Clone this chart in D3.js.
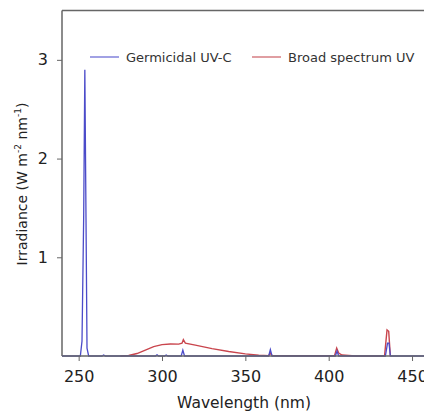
<!DOCTYPE html>
<html>
<head>
<meta charset="utf-8">
<script src="https://cdn.jsdelivr.net/npm/d3@7"></script>
<style>
  body { margin: 0; background: #fff; }
  svg { font-family: "DejaVu Sans", Verdana, sans-serif; }
</style>
</head>
<body>
<div id="chart"></div>
<script>
// spectra (wavelength nm, irradiance W m-2 nm-1)
var germicidal = [
  [240,0],[251,0],[252,0.15],[253,1.4],[253.7,2.9],[254.4,1.4],[255,0.08],[256,0],
  [264,0],[265,0.01],[266,0],[296,0],[297,0.012],[298,0],[301.5,0],[302.5,0.01],[303.5,0],
  [311.5,0],[312.5,0.06],[313.5,0],[364,0],[365,0.065],[366,0],
  [404,0],[405,0.05],[406,0],[434,0],[435.3,0.13],[436.2,0.13],[437,0],[460,0]
];
var broad = [
  [275,0],[280,0.005],[285,0.025],[290,0.06],[295,0.095],[300,0.115],[305,0.122],
  [310,0.12],[312,0.13],[312.8,0.165],[314,0.13],[320,0.11],[330,0.075],[340,0.045],
  [350,0.022],[358,0.008],[364,0.003],[365,0.03],[366,0.005],[380,0.002],[403.5,0.002],
  [404.8,0.08],[406,0.03],[408,0.01],[416,0],
  [433.5,0],[435,0.265],[436,0.25],[437,0]
];
var xTicks = [250, 300, 350, 400, 450];
var yTicks = [1, 2, 3];

var W = 424, H = 412;
var svg = d3.select("#chart").append("svg").attr("width", W).attr("height", H);

var x = d3.scaleLinear().domain([240, 460]).range([62, 428.7]);
var y = d3.scaleLinear().domain([0, 3.5]).range([356, 10.5]);
var axisCol = "#666";

// frame: left, top, bottom
svg.append("line").attr("x1", 62).attr("x2", 62).attr("y1", y(3.5)).attr("y2", y(0))
  .attr("stroke", axisCol).attr("stroke-width", 1.5);
svg.append("line").attr("x1", 62).attr("x2", W).attr("y1", y(3.5)).attr("y2", y(3.5))
  .attr("stroke", axisCol).attr("stroke-width", 1.5);

var line = d3.line().x(function(d){ return x(d[0]); }).y(function(d){ return y(d[1]); });

svg.append("path").datum(broad).attr("d", line).attr("fill", "none")
  .attr("stroke", "#c9454d").attr("stroke-width", 1.4);
svg.append("path").datum(germicidal).attr("d", line).attr("fill", "none")
  .attr("stroke", "#4b4bc9").attr("stroke-width", 1.3);

var xAxis = svg.append("g").attr("transform", "translate(0," + y(0) + ")")
  .call(d3.axisBottom(x).tickValues(xTicks).tickFormat(d3.format("d"))
    .tickSize(5).tickPadding(10).tickSizeOuter(0));
var yAxis = svg.append("g").attr("transform", "translate(62,0)")
  .call(d3.axisLeft(y).tickValues(yTicks).tickFormat(d3.format("d"))
    .tickSize(5).tickPadding(9).tickSizeOuter(0));
[xAxis, yAxis].forEach(function(a){
  a.select(".domain").remove();
  a.selectAll("line").attr("stroke", axisCol);
  a.selectAll("text").attr("fill", "#222").style("font-size", "16px")
    .style("font-family", "DejaVu Sans, Verdana, sans-serif");
});
svg.append("line").attr("x1", 62).attr("x2", W).attr("y1", y(0)).attr("y2", y(0))
  .attr("stroke", axisCol).attr("stroke-width", 1.5);

// axis titles
svg.append("text").attr("x", 244).attr("y", 408).attr("text-anchor", "middle")
  .attr("fill", "#222").style("font-size", "15.5px").text("Wavelength (nm)");
var yt = svg.append("text").attr("transform", "translate(27,184) rotate(-90)")
  .attr("text-anchor", "middle").attr("fill", "#222").style("font-size", "14px");
yt.append("tspan").text("Irradiance (W m");
yt.append("tspan").attr("dy", -6).style("font-size", "9px").text("-2");
yt.append("tspan").attr("dy", 6).text(" nm");
yt.append("tspan").attr("dy", -6).style("font-size", "9px").text("-1");
yt.append("tspan").attr("dy", 6).text(")");

// legend
var legend = [
  {name: "Germicidal UV-C", col: "#6f6fd6", x: 90},
  {name: "Broad spectrum UV", col: "#d06a70", x: 252}
];
legend.forEach(function(l){
  svg.append("line").attr("x1", l.x).attr("x2", l.x + 29).attr("y1", 57).attr("y2", 57)
    .attr("stroke", l.col).attr("stroke-width", 1.3);
  svg.append("text").attr("x", l.x + 36).attr("y", 62).attr("fill", "#333")
    .style("font-size", "13px").text(l.name);
});
</script>
</body>
</html>
